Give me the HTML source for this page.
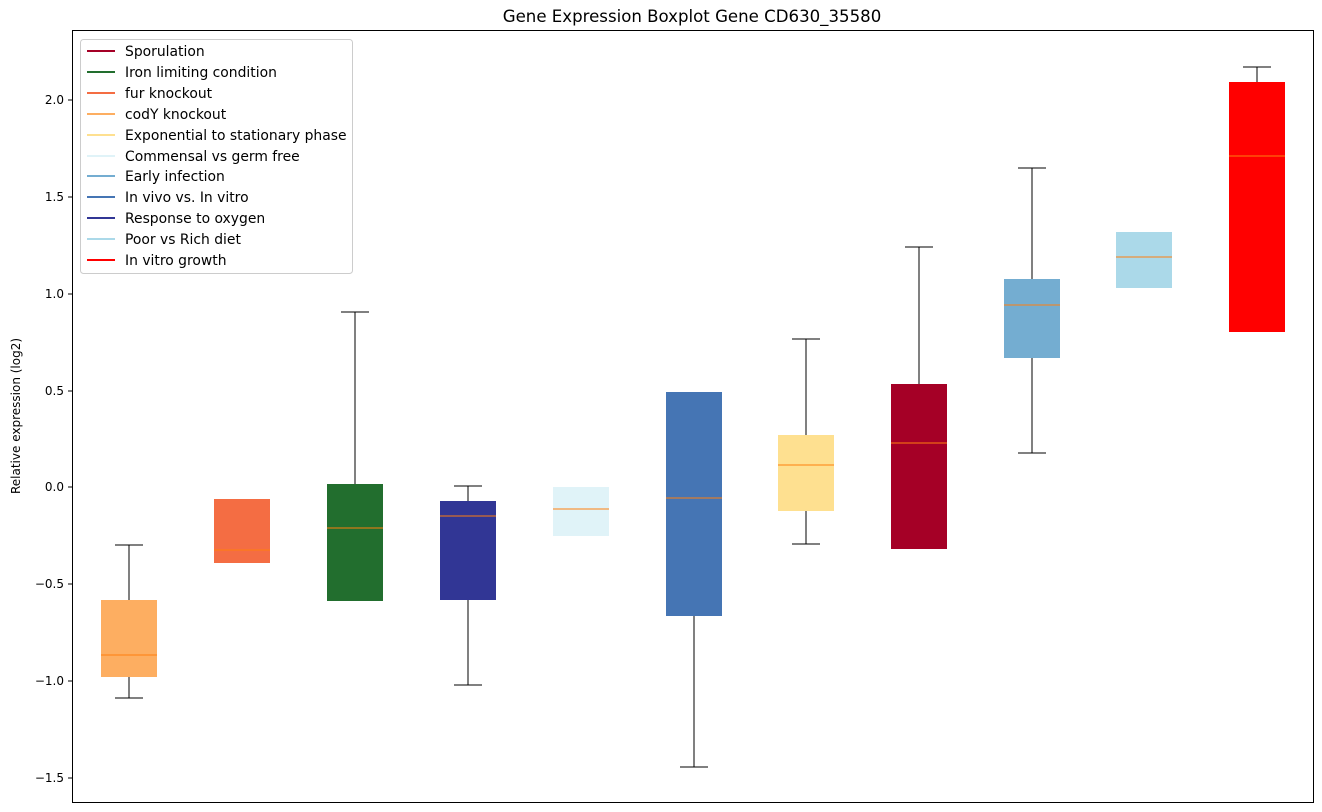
<!DOCTYPE html>
<html><head><meta charset="utf-8"><style>body{margin:0;background:#fff}svg{display:block;font-family:"DejaVu Sans","Liberation Sans",sans-serif}</style></head><body>
<svg width="1322" height="812" xmlns="http://www.w3.org/2000/svg">
<rect width="1322" height="812" fill="#fff"/>
<text x="692" y="22" font-size="16.6" text-anchor="middle">Gene Expression Boxplot Gene CD630_35580</text>
<g stroke="#000" stroke-width="1">
<line x1="129" y1="545" x2="129" y2="600"/><line x1="115" y1="545" x2="143" y2="545"/>
<line x1="129" y1="677" x2="129" y2="698"/><line x1="115" y1="698" x2="143" y2="698"/>
<line x1="355" y1="312" x2="355" y2="484"/><line x1="341" y1="312" x2="369" y2="312"/>
<line x1="468" y1="486" x2="468" y2="501"/><line x1="454" y1="486" x2="482" y2="486"/>
<line x1="468" y1="600" x2="468" y2="685"/><line x1="454" y1="685" x2="482" y2="685"/>
<line x1="694" y1="616" x2="694" y2="767"/><line x1="680" y1="767" x2="708" y2="767"/>
<line x1="806" y1="339" x2="806" y2="435"/><line x1="792" y1="339" x2="820" y2="339"/>
<line x1="806" y1="511" x2="806" y2="544"/><line x1="792" y1="544" x2="820" y2="544"/>
<line x1="919" y1="247" x2="919" y2="384"/><line x1="905" y1="247" x2="933" y2="247"/>
<line x1="1032" y1="168" x2="1032" y2="279"/><line x1="1018" y1="168" x2="1046" y2="168"/>
<line x1="1032" y1="358" x2="1032" y2="453"/><line x1="1018" y1="453" x2="1046" y2="453"/>
<line x1="1257" y1="67" x2="1257" y2="82"/><line x1="1243" y1="67" x2="1271" y2="67"/>
</g>
<g>
<rect x="101" y="600" width="56" height="77" fill="#fdae61"/>
<rect x="214" y="499" width="56" height="64" fill="#f46d43"/>
<rect x="327" y="484" width="56" height="117" fill="#226e2e"/>
<rect x="440" y="501" width="56" height="99" fill="#313695"/>
<rect x="553" y="487" width="56" height="49" fill="#e0f3f8"/>
<rect x="666" y="392" width="56" height="224" fill="#4575b4"/>
<rect x="778" y="435" width="56" height="76" fill="#fee090"/>
<rect x="891" y="384" width="56" height="165" fill="#a50026"/>
<rect x="1004" y="279" width="56" height="79" fill="#74add1"/>
<rect x="1116" y="232" width="56" height="56" fill="#abd9e9"/>
<rect x="1229" y="82" width="56" height="250" fill="#ff0000"/>
</g>
<g stroke="#ff7f0e" stroke-width="1">
<line x1="101" y1="655" x2="157" y2="655"/><line x1="214" y1="550" x2="270" y2="550"/>
<line x1="327" y1="528" x2="383" y2="528"/><line x1="440" y1="516" x2="496" y2="516"/>
<line x1="553" y1="509" x2="609" y2="509"/><line x1="666" y1="498" x2="722" y2="498"/>
<line x1="778" y1="465" x2="834" y2="465"/><line x1="891" y1="443" x2="947" y2="443"/>
<line x1="1004" y1="305" x2="1060" y2="305"/><line x1="1116" y1="257" x2="1172" y2="257"/>
<line x1="1229" y1="156" x2="1285" y2="156"/>
</g>
<rect x="72.5" y="30.5" width="1241" height="772" fill="none" stroke="#000"/>
<g stroke="#000">
<line x1="68" y1="100" x2="72" y2="100"/><line x1="68" y1="197" x2="72" y2="197"/><line x1="68" y1="294" x2="72" y2="294"/><line x1="68" y1="391" x2="72" y2="391"/><line x1="68" y1="487" x2="72" y2="487"/><line x1="68" y1="584" x2="72" y2="584"/><line x1="68" y1="681" x2="72" y2="681"/><line x1="68" y1="778" x2="72" y2="778"/>
</g>
<g font-size="12" text-anchor="end">
<text x="64" y="104">2.0</text><text x="64" y="201">1.5</text><text x="64" y="298">1.0</text><text x="64" y="395">0.5</text><text x="64" y="491">0.0</text><text x="64" y="588">−0.5</text><text x="64" y="685">−1.0</text><text x="64" y="782">−1.5</text>
</g>
<text transform="translate(20,416) rotate(-90)" font-size="12" text-anchor="middle">Relative expression (log2)</text>
<rect x="80.5" y="39.5" width="272" height="234" rx="3" fill="#fff" stroke="#ccc"/>
<g stroke-width="2">
<line x1="87" y1="51" x2="115" y2="51" stroke="#a50026"/>
<line x1="87" y1="72" x2="115" y2="72" stroke="#226e2e"/>
<line x1="87" y1="93" x2="115" y2="93" stroke="#f46d43"/>
<line x1="87" y1="114" x2="115" y2="114" stroke="#fdae61"/>
<line x1="87" y1="135" x2="115" y2="135" stroke="#fee090"/>
<line x1="87" y1="156" x2="115" y2="156" stroke="#e0f3f8"/>
<line x1="87" y1="176" x2="115" y2="176" stroke="#74add1"/>
<line x1="87" y1="197" x2="115" y2="197" stroke="#4575b4"/>
<line x1="87" y1="218" x2="115" y2="218" stroke="#313695"/>
<line x1="87" y1="239" x2="115" y2="239" stroke="#abd9e9"/>
<line x1="87" y1="260" x2="115" y2="260" stroke="#ff0000"/>
</g>
<g font-size="13.9">
<text x="125" y="56">Sporulation</text>
<text x="125" y="77">Iron limiting condition</text>
<text x="125" y="98">fur knockout</text>
<text x="125" y="119">codY knockout</text>
<text x="125" y="140">Exponential to stationary phase</text>
<text x="125" y="161">Commensal vs germ free</text>
<text x="125" y="181">Early infection</text>
<text x="125" y="202">In vivo vs. In vitro</text>
<text x="125" y="223">Response to oxygen</text>
<text x="125" y="244">Poor vs Rich diet</text>
<text x="125" y="265">In vitro growth</text>
</g>
</svg>
</body></html>
